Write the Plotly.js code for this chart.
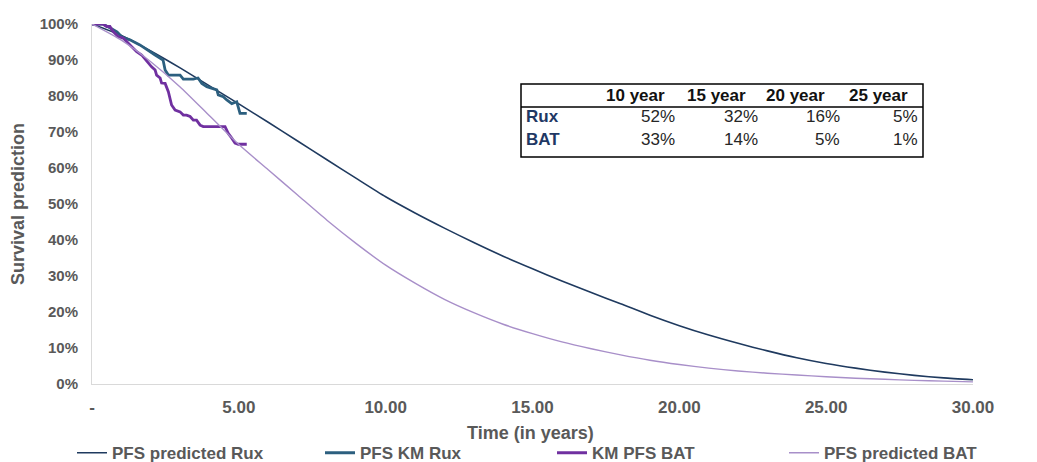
<!DOCTYPE html>
<html>
<head>
<meta charset="utf-8">
<script src="https://cdn.plot.ly/plotly-3.0.1.min.js"></script>
<style>
  html, body { margin: 0; padding: 0; background: #ffffff; }
  #chart { width: 1037px; height: 462px; }
</style>
</head>
<body>
<div id="chart"></div>
<script>
// ---- Data ----
const predYears = [0,1,2,3,4,5,6,7,8,9,10,11,12,13,14,15,16,17,18,19,20,21,22,23,24,25,26,27,28,29,30];
const predRux   = [100,96.8,92.5,87.8,82.8,77.8,72.7,67.5,62.3,57.1,52,47.5,43.3,39.3,35.5,32,28.6,25.4,22.3,19.1,16.2,13.6,11.3,9.2,7.3,5.7,4.4,3.3,2.4,1.7,1.2];
const predBAT   = [100,95.5,89.5,82.5,74.5,66.5,59.5,52.5,45.5,39,33,28,23.5,19.8,16.6,14,11.7,9.8,8.1,6.6,5.4,4.4,3.6,3.0,2.5,2.0,1.6,1.3,1.0,0.8,0.6];

const kmRuxYears = [0,0.37,0.68,0.85,1.02,1.29,1.63,1.91,2.15,2.42,2.49,2.6,3.0,3.11,3.45,3.61,3.74,3.91,4.08,4.25,4.3,4.47,4.59,4.76,4.93,4.98,5.04,5.27];
const kmRux      = [100,100,98.6,97.8,96.4,95.6,94.2,92.8,91.4,90,87.2,85.8,85.8,84.7,84.7,85,83.5,82.6,82.1,81.7,80.3,79.8,78.9,77.9,78.4,76.6,75.2,75.2];

const kmBATYears = [0,0.37,0.5,0.61,0.72,0.89,1.06,1.29,1.52,1.69,1.91,2.03,2.15,2.2,2.32,2.37,2.49,2.6,2.71,2.83,3.0,3.11,3.22,3.34,3.45,3.56,3.68,3.79,4.53,4.64,4.76,4.87,4.98,5.27];
const kmBAT      = [100,100,99.3,99.3,97.9,96.5,96.1,94.2,92.3,91.4,89.2,88.1,87.2,85.8,85,83.6,83.5,81.2,77.5,76.1,75.6,74.7,74.7,74.3,73.3,73.3,71.9,71.5,71.5,69.6,68.3,66.9,66.6,66.6];

const seriesNames = ["PFS predicted Rux", "PFS KM Rux", "KM PFS BAT", "PFS predicted BAT"];

const xTickVals  = [0,5,10,15,20,25,30];
const xTickText  = ["-","5.00","10.00","15.00","20.00","25.00","30.00"];
const xTitle     = "Time (in years)";
const yTitle     = "Survival prediction";

const tableHeader = ["10 year", "15 year", "20 year", "25 year"];
const tableArms   = ["Rux", "BAT"];
const tableRux    = ["52%", "32%", "16%", "5%"];
const tableBAT    = ["33%", "14%", "5%", "1%"];

// ---- Styles / geometry ----
const cNavy = "#1f3a5f", cTeal = "#2c5f7f", cPurple = "#7030a0", cLav = "#a88fc9";
const gray = "#595959";
const font = "'Liberation Sans', Arial, sans-serif";

// plot area in pixels (matches margins below)
const PL = 92, PR = 973, PT = 24, PB = 384;
const px2x = p => (p - PL) / (PR - PL);
const py2y = p => (PB - p) / (PB - PT);

// table geometry (pixels)
const headRight = [667, 748, 827, 910];
const valRight  = [677, 760, 842, 920];
const labelLeft = 524;
const rowMid    = [96, 117, 139];
const box       = { x0: 521, x1: 923, y0: 84, y1: 157, headLine: 107 };

const annotations = [];
tableHeader.forEach((h, i) => annotations.push({
  xref: "paper", yref: "paper", x: px2x(headRight[i]), y: py2y(rowMid[0]),
  xanchor: "right", yanchor: "middle", showarrow: false, text: h,
  font: { family: font, size: 17, color: "#111111", weight: "bold" }
}));
[tableRux, tableBAT].forEach((row, r) => {
  annotations.push({
    xref: "paper", yref: "paper", x: px2x(labelLeft), y: py2y(rowMid[r + 1]),
    xanchor: "left", yanchor: "middle", showarrow: false, text: tableArms[r],
    font: { family: font, size: 17, color: "#1f3864", weight: "bold" }
  });
  row.forEach((v, i) => annotations.push({
    xref: "paper", yref: "paper", x: px2x(valRight[i]), y: py2y(rowMid[r + 1]),
    xanchor: "right", yanchor: "middle", showarrow: false, text: v,
    font: { family: font, size: 17, color: "#262626" }
  }));
});
// x-axis title, placed below the tick labels
annotations.push({
  xref: "paper", yref: "paper", x: px2x(530), y: py2y(433),
  xanchor: "center", yanchor: "middle", showarrow: false, text: xTitle,
  font: { family: font, size: 18, color: gray, weight: "bold" }
});

const traces = [
  { x: predYears, y: predRux, name: seriesNames[0], type: "scatter", mode: "lines", legend: "legend",
    line: { color: cNavy, width: 1.6, shape: "spline", smoothing: 0.6 } },
  { x: kmRuxYears, y: kmRux, name: seriesNames[1], type: "scatter", mode: "lines", legend: "legend2",
    line: { color: cTeal, width: 2.8 } },
  { x: kmBATYears, y: kmBAT, name: seriesNames[2], type: "scatter", mode: "lines", legend: "legend3",
    line: { color: cPurple, width: 2.8 } },
  { x: predYears, y: predBAT, name: seriesNames[3], type: "scatter", mode: "lines", legend: "legend4",
    line: { color: cLav, width: 1.4, shape: "spline", smoothing: 0.6 } }
];

function legendAt(xpos) {
  return {
    orientation: "h", x: xpos, xanchor: "left", xref: "paper",
    y: 0.058, yanchor: "top", yref: "container",
    itemwidth: 30,
    font: { family: font, size: 17, color: gray, weight: "bold" },
    bgcolor: "rgba(0,0,0,0)"
  };
}

const layout = {
  width: 1037, height: 462,
  margin: { l: PL, r: 1037 - PR, t: PT, b: 462 - PB },
  paper_bgcolor: "#ffffff", plot_bgcolor: "#ffffff",
  font: { family: font, color: gray },
  showlegend: true,
  legend:  legendAt(px2x(72)),
  legend2: legendAt(px2x(320)),
  legend3: legendAt(px2x(552)),
  legend4: legendAt(px2x(784)),
  xaxis: {
    range: [0, 30], tickmode: "array", tickvals: xTickVals, ticktext: xTickText,
    showgrid: false, zeroline: false, showline: true, linecolor: "#d9d9d9", linewidth: 1,
    ticks: "", ticklabelstandoff: 8, automargin: false,
    tickfont: { family: font, size: 17, color: gray, weight: "bold" }
  },
  yaxis: {
    range: [0, 100], dtick: 10, ticksuffix: "%",
    showgrid: false, zeroline: false, showline: true, linecolor: "#d9d9d9", linewidth: 1,
    ticks: "", ticklabelstandoff: 10,
    tickfont: { family: font, size: 15, color: gray, weight: "bold" },
    title: { text: yTitle, standoff: 10, font: { family: font, size: 18, color: gray, weight: "bold" } }
  },
  annotations: annotations,
  shapes: [
    { type: "rect", xref: "paper", yref: "paper",
      x0: px2x(box.x0), x1: px2x(box.x1), y0: py2y(box.y1), y1: py2y(box.y0),
      line: { color: "#000000", width: 1.5 }, fillcolor: "#ffffff", layer: "above" },
    { type: "line", xref: "paper", yref: "paper",
      x0: px2x(box.x0), x1: px2x(box.x1), y0: py2y(box.headLine), y1: py2y(box.headLine),
      line: { color: "#000000", width: 1.5 }, layer: "above" }
  ]
};

Plotly.newPlot("chart", traces, layout, { displayModeBar: false, staticPlot: true });
</script>
</body>
</html>
